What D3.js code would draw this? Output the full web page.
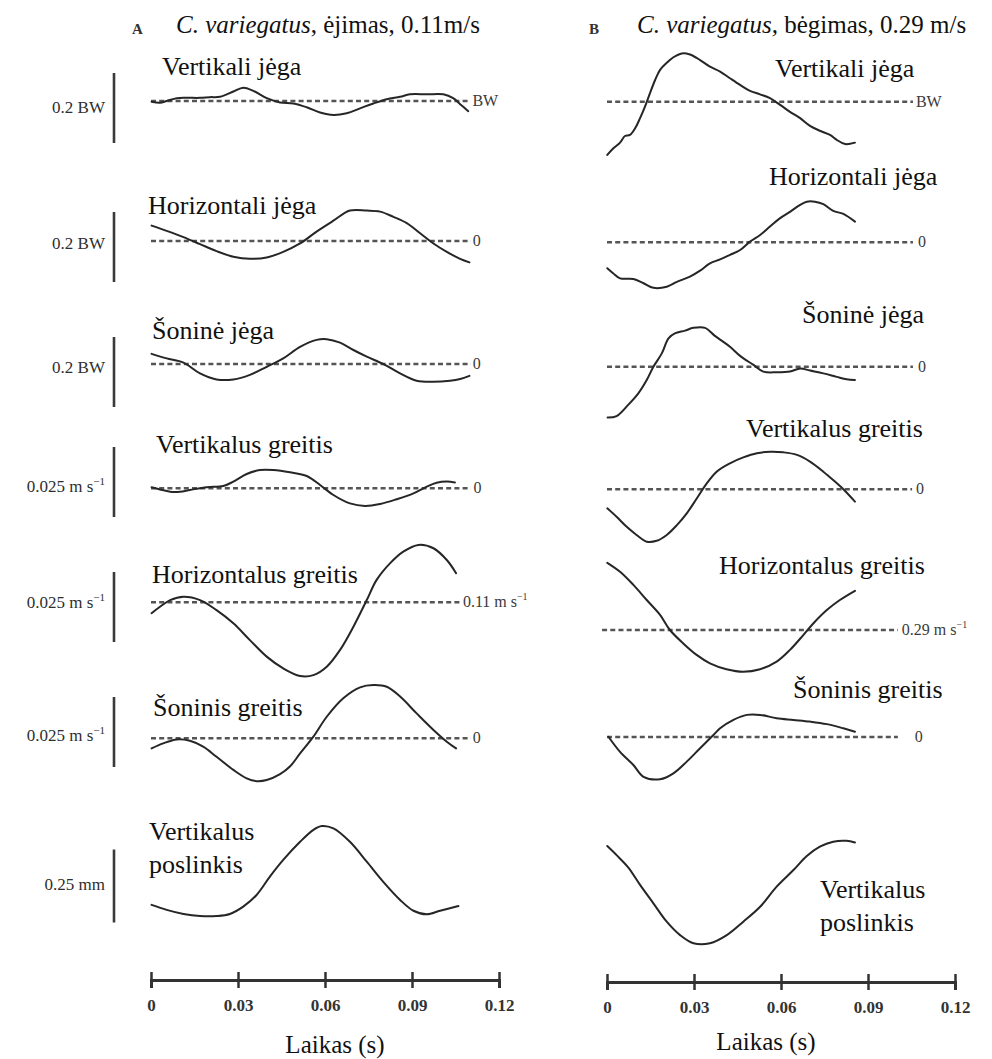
<!DOCTYPE html>
<html><head><meta charset="utf-8">
<script src="https://cdn.jsdelivr.net/npm/d3@7"></script>
<style>
body{margin:0;background:#fff}
svg{display:block}
</style>
</head><body>
<svg id="c" width="992" height="1059" font-family="'Liberation Serif', serif"></svg>
<script>
// ---------------- DATA ----------------
const timeTicks = [0, 0.03, 0.06, 0.09, 0.12];
const tickLabels = ["0", "0.03", "0.06", "0.09", "0.12"];
const rowLabels = ["Vertikali jėga", "Horizontali jėga", "Šoninė jėga", "Vertikalus greitis",
  "Horizontalus greitis", "Šoninis greitis", "Vertikalus poslinkis"];
const scaleBarSizes = [0.2, 0.2, 0.2, 0.025, 0.025, 0.025, 0.25];
const scaleBarTexts = ["0.2 BW", "0.2 BW", "0.2 BW", "0.025 m s", "0.025 m s", "0.025 m s", "0.25 mm"];
const scaleBarSup = ["", "", "", "−1", "−1", "−1", ""];
const refValuesA = [1, 0, 0, 0, 0.11, 0];
const refValuesB = [1, 0, 0, 0, 0.29, 0];
const refTextsA = ["BW", "0", "0", "0", "0.11 m s", "0"];
const refTextsB = ["BW", "0", "0", "0", "0.29 m s", "0"];
const refSupA = ["", "", "", "", "−1", ""];
const refSupB = ["", "", "", "", "−1", ""];
const refLineEndA = [0.1098, 0.1103, 0.1103, 0.1098, 0.1072, 0.1103];
const refLineEndB = [0.1055, 0.1055, 0.1055, 0.1052, 0.1003, 0.1003];
const titleA = ["A", "C. variegatus", ", ėjimas, 0.11m/s"];
const titleB = ["B", "C. variegatus,", " bėgimas, 0.29 m/s"];
const xAxisTitle = "Laikas (s)";

// Panel A — walking (forces in BW, velocities in m/s, displacement in mm)
const tA1 = [0.0002,0.0031,0.0054,0.0089,0.0123,0.0169,0.0203,0.0238,0.0284,0.0318,0.0353,0.0399,0.0445,0.0491,0.0537,0.0583,0.0629,0.0675,0.0721,0.0767,0.0813,0.0859,0.0893,0.0951,0.1008,0.1042,0.1066,0.1094];
const vA1 = [0.998,0.995,1.000,1.008,1.009,1.009,1.011,1.012,1.027,1.038,1.029,1.008,0.996,0.993,0.982,0.967,0.960,0.965,0.979,0.993,1.005,1.012,1.019,1.019,1.019,1.008,0.991,0.971];
const tA2 = [0.0002,0.0054,0.0112,0.0169,0.0226,0.0284,0.0341,0.0399,0.0456,0.0514,0.0571,0.0629,0.0686,0.0744,0.0790,0.0836,0.0882,0.0928,0.0974,0.1020,0.1066,0.1098];
const vA2 = [0.044,0.029,0.011,-0.009,-0.029,-0.045,-0.051,-0.047,-0.031,-0.007,0.027,0.058,0.087,0.087,0.084,0.069,0.051,0.022,-0.007,-0.031,-0.051,-0.061];
const tA3 = [0.0002,0.0054,0.0112,0.0169,0.0226,0.0284,0.0341,0.0399,0.0456,0.0514,0.0571,0.0606,0.0652,0.0698,0.0744,0.0801,0.0859,0.0916,0.0974,0.1031,0.1066,0.1098];
const vA3 = [0.029,0.016,0.004,-0.027,-0.044,-0.044,-0.031,-0.008,0.016,0.049,0.069,0.071,0.061,0.040,0.021,0.000,-0.027,-0.048,-0.051,-0.048,-0.043,-0.034];
const tA4 = [0.0002,0.0031,0.0066,0.0100,0.0134,0.0192,0.0249,0.0284,0.0330,0.0376,0.0422,0.0479,0.0537,0.0583,0.0629,0.0686,0.0738,0.0790,0.0847,0.0905,0.0951,0.0985,0.1020,0.1048];
const vA4 = [0.0004,-0.0004,-0.0012,-0.0012,-0.0006,0.0004,0.0008,0.0024,0.0051,0.0065,0.0065,0.0057,0.0044,0.0012,-0.0024,-0.0054,-0.0063,-0.0056,-0.0039,-0.0018,0.0006,0.0020,0.0024,0.0021];
const tA5 = [0.0002,0.0031,0.0066,0.0112,0.0169,0.0226,0.0284,0.0341,0.0399,0.0456,0.0514,0.0560,0.0606,0.0652,0.0698,0.0744,0.0778,0.0824,0.0870,0.0922,0.0974,0.1020,0.1052];
const vA5 = [0.1061,0.1084,0.1108,0.1120,0.1108,0.1072,0.1025,0.0965,0.0906,0.0864,0.0837,0.0840,0.0870,0.0930,0.1013,0.1108,0.1180,0.1239,0.1281,0.1305,0.1293,0.1251,0.1204];
const tA6 = [0.0002,0.0042,0.0089,0.0134,0.0180,0.0226,0.0284,0.0330,0.0364,0.0399,0.0445,0.0479,0.0514,0.0560,0.0606,0.0663,0.0721,0.0767,0.0813,0.0859,0.0916,0.0974,0.1020,0.1052];
const vA6 = [-0.0036,-0.0018,-0.0004,-0.0009,-0.0030,-0.0066,-0.0113,-0.0143,-0.0153,-0.0149,-0.0128,-0.0101,-0.0054,0.0006,0.0077,0.0143,0.0182,0.0190,0.0184,0.0149,0.0089,0.0030,-0.0012,-0.0036];
const tA7 = [0.0002,0.0054,0.0112,0.0169,0.0226,0.0272,0.0318,0.0364,0.0410,0.0456,0.0514,0.0560,0.0589,0.0629,0.0686,0.0744,0.0801,0.0859,0.0905,0.0951,0.0997,0.1060];
const vA7 = [0.038,0.021,0.007,0.000,0.000,0.007,0.032,0.072,0.135,0.192,0.254,0.295,0.308,0.300,0.254,0.186,0.117,0.055,0.018,0.006,0.018,0.034];

// Panel B — running
const tB1 = [0.0001,0.0022,0.0045,0.0062,0.0079,0.0097,0.0114,0.0131,0.0148,0.0166,0.0183,0.0206,0.0229,0.0258,0.0286,0.0321,0.0355,0.0390,0.0424,0.0459,0.0493,0.0528,0.0562,0.0597,0.0631,0.0666,0.0700,0.0734,0.0769,0.0792,0.0821,0.0855];
const vB1 = [0.848,0.867,0.883,0.902,0.905,0.924,0.953,0.986,1.024,1.062,1.091,1.111,1.127,1.138,1.135,1.119,1.100,1.086,1.067,1.048,1.031,1.021,1.010,0.991,0.971,0.953,0.931,0.917,0.905,0.891,0.879,0.883];
const tB2 = [0.0001,0.0022,0.0045,0.0091,0.0126,0.0160,0.0206,0.0241,0.0286,0.0321,0.0355,0.0390,0.0424,0.0459,0.0493,0.0528,0.0562,0.0597,0.0631,0.0666,0.0689,0.0717,0.0746,0.0780,0.0815,0.0855];
const vB2 = [-0.074,-0.089,-0.103,-0.105,-0.117,-0.130,-0.127,-0.113,-0.098,-0.081,-0.060,-0.049,-0.036,-0.022,0.002,0.021,0.045,0.069,0.087,0.107,0.116,0.116,0.109,0.090,0.081,0.059];
const tB3 = [0.0002,0.0033,0.0073,0.0108,0.0137,0.0160,0.0189,0.0212,0.0234,0.0269,0.0298,0.0338,0.0372,0.0401,0.0424,0.0459,0.0505,0.0539,0.0585,0.0631,0.0666,0.0700,0.0746,0.0792,0.0826,0.0855];
const vB3 = [-0.145,-0.141,-0.109,-0.076,-0.038,0.000,0.038,0.081,0.095,0.103,0.111,0.111,0.088,0.071,0.057,0.031,0.005,-0.014,-0.016,-0.014,-0.005,-0.011,-0.019,-0.029,-0.036,-0.038];
const tB4 = [0.0001,0.0033,0.0068,0.0102,0.0137,0.0171,0.0206,0.0241,0.0275,0.0310,0.0344,0.0378,0.0424,0.0470,0.0517,0.0562,0.0608,0.0655,0.0700,0.0746,0.0780,0.0815,0.0855];
const vB4 = [-0.0068,-0.0098,-0.0134,-0.0163,-0.0187,-0.0184,-0.0163,-0.0128,-0.0086,-0.0032,0.0021,0.0063,0.0093,0.0114,0.0129,0.0134,0.0132,0.0123,0.0099,0.0063,0.0033,0.0000,-0.0044];
const tB5 = [0.0001,0.0045,0.0091,0.0137,0.0183,0.0217,0.0263,0.0309,0.0355,0.0412,0.0470,0.0528,0.0585,0.0631,0.0677,0.0712,0.0758,0.0803,0.0855];
const vB5 = [0.3140,0.3108,0.3061,0.3007,0.2954,0.2900,0.2852,0.2811,0.2781,0.2760,0.2751,0.2760,0.2787,0.2829,0.2882,0.2924,0.2971,0.3007,0.3040];
const tB6 = [0.0005,0.0045,0.0091,0.0126,0.0183,0.0229,0.0275,0.0321,0.0367,0.0390,0.0436,0.0482,0.0528,0.0585,0.0643,0.0700,0.0758,0.0815,0.0855];
const vB6 = [0.0001,-0.0053,-0.0100,-0.0142,-0.0151,-0.0130,-0.0088,-0.0040,0.0007,0.0031,0.0061,0.0079,0.0079,0.0067,0.0061,0.0055,0.0046,0.0031,0.0019];
const tB7 = [0.0001,0.0033,0.0073,0.0114,0.0160,0.0206,0.0252,0.0298,0.0355,0.0413,0.0470,0.0528,0.0585,0.0643,0.0689,0.0734,0.0780,0.0826,0.0855];
const vB7 = [0.333,0.302,0.260,0.200,0.137,0.074,0.028,0.000,0.000,0.028,0.074,0.125,0.194,0.251,0.299,0.331,0.348,0.351,0.345];

// ---------------- LAYOUT ----------------
const FONT = "'Liberation Serif', serif";
const svg = d3.select("#c");
const ink = "#262626";
const txt = (sel) => sel.append("text").attr("font-family", FONT);
const panels = [
  { x0: 151, x1: 499, axisY: 980,
    rowY: [101, 241, 364, 488.3, 602.3, 738.3, 916],
    refValues: refValuesA, refTexts: refTextsA, refSup: refSupA, refEnd: refLineEndA,
    series: [[tA1,vA1],[tA2,vA2],[tA3,vA3],[tA4,vA4],[tA5,vA5],[tA6,vA6],[tA7,vA7]],
    labels: [[162,75],[148,214],[152,339],[156,453],[152,583],[153,716],[149,840]],
    title: titleA, titleLetterX: 132, titleX: 176, axisTitleX: 335, axisTitleY: 1053 },
  { x0: 607, x1: 955, axisY: 982,
    rowY: [101.7, 242.3, 366.7, 489.3, 630, 737, 943.3],
    refValues: refValuesB, refTexts: refTextsB, refSup: refSupB, refEnd: refLineEndB,
    series: [[tB1,vB1],[tB2,vB2],[tB3,vB3],[tB4,vB4],[tB5,vB5],[tB6,vB6],[tB7,vB7]],
    labels: [[775,77],[769,185],[802,323],[746,437],[719,574],[793,698],[820,898]],
    title: titleB, titleLetterX: 589, titleX: 637, axisTitleX: 766, axisTitleY: 1050 }
];
const refStartT = [[0,0,0,0,0,0],[0,0,0,0,-0.0017,0]];
const refLabelGap = [[3,2,2,4,1,2],[3,5,5,4,4,17]];
const barLen = [70, 70, 70, 70, 70, 70, 73];
const barCenter = [108, 247, 372, 482, 607, 732, 886];
const barTextY = [113, 249, 373, 492, 608, 741, 890];

// Scale bars on the far left
scaleBarSizes.forEach((s, i) => {
  const yb = d3.scaleLinear().domain([0, s]).range([barCenter[i] + barLen[i] / 2, barCenter[i] - barLen[i] / 2]);
  svg.append("line").attr("x1", 114).attr("x2", 114)
    .attr("y1", yb(0)).attr("y2", yb(s))
    .attr("stroke", "#3a3a3a").attr("stroke-width", 2.6);
  const t = txt(svg).attr("x", 105).attr("y", barTextY[i])
    .attr("text-anchor", "end").attr("font-size", 17).attr("fill", "#2e2e2e");
  t.append("tspan").text(scaleBarTexts[i]);
  if (scaleBarSup[i]) t.append("tspan").attr("font-size", 11).attr("dy", -7).text(scaleBarSup[i]);
});

panels.forEach((p, pi) => {
  const x = d3.scaleLinear().domain([0, 0.12]).range([p.x0, p.x1]);

  // Titles
  txt(svg).attr("x", p.titleLetterX).attr("y", 34).attr("font-size", 15)
    .attr("font-weight", "bold").attr("fill", "#333").text(p.title[0]);
  const tt = txt(svg).attr("x", p.titleX).attr("y", 33).attr("font-size", 25).attr("fill", "#111");
  tt.append("tspan").attr("font-style", "italic").text(p.title[1]);
  tt.append("tspan").text(p.title[2]);

  p.series.forEach(([ts, vs], i) => {
    const ref = i < 6 ? p.refValues[i] : 0;
    const y = d3.scaleLinear().domain([ref, ref + scaleBarSizes[i]])
      .range([p.rowY[i], p.rowY[i] - barLen[i]]);

    // dashed reference line + its label
    if (i < 6) {
      const xe = x(p.refEnd[i]);
      svg.append("line").attr("x1", x(refStartT[pi][i])).attr("x2", xe)
        .attr("y1", y(ref)).attr("y2", y(ref))
        .attr("stroke", "#555").attr("stroke-width", 2.4).attr("stroke-dasharray", "5,3.2");
      const lt = txt(svg).attr("x", xe + refLabelGap[pi][i]).attr("y", y(ref) + 5)
        .attr("font-size", 16).attr("fill", "#3a3a3a");
      lt.append("tspan").text(p.refTexts[i]);
      if (p.refSup[i]) lt.append("tspan").attr("font-size", 10).attr("dy", -7).text(p.refSup[i]);
    }

    // curve
    const pts = ts.map((t, k) => [t, vs[k]]);
    svg.append("path").datum(pts)
      .attr("d", d3.line().x(d => x(d[0])).y(d => y(d[1])).curve(d3.curveCatmullRom.alpha(0.5)))
      .attr("fill", "none").attr("stroke", ink).attr("stroke-width", 2)
      .attr("stroke-linejoin", "round").attr("stroke-linecap", "round");

    // row label
    const [lx, ly] = p.labels[i];
    const words = i === 6 ? rowLabels[i].split(" ") : [rowLabels[i]];
    words.forEach((w, k) => {
      txt(svg).attr("x", lx).attr("y", ly + k * 33).attr("font-size", 26)
        .attr("fill", "#111").text(w);
    });
  });

  // time axis
  const ax = svg.append("g").attr("transform", `translate(0,${p.axisY})`)
    .call(d3.axisBottom(x).tickValues(timeTicks).tickFormat((d, k) => tickLabels[k]).tickSizeOuter(0).tickSize(8));
  ax.attr("font-family", FONT);
  ax.select(".domain").attr("stroke", "#333").attr("stroke-width", 3);
  ax.selectAll(".tick line").attr("y1", -8).attr("y2", 8).attr("stroke", "#333").attr("stroke-width", 2.5);
  ax.selectAll(".tick text").attr("y", 31).attr("dy", 0).attr("font-size", 17)
    .attr("font-family", FONT).attr("fill", "#333").attr("font-weight", "bold");
  txt(svg).attr("x", p.axisTitleX).attr("y", p.axisTitleY).attr("text-anchor", "middle")
    .attr("font-size", 25).attr("fill", "#111").text(xAxisTitle);
});
</script>
</body></html>
